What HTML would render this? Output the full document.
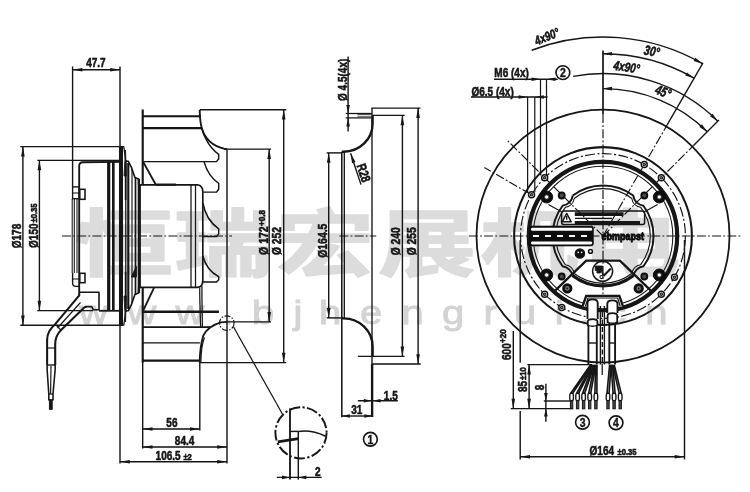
<!DOCTYPE html>
<html><head><meta charset="utf-8"><title>Fan drawing</title>
<style>
html,body{margin:0;padding:0;background:#fff;}
body{width:750px;height:492px;overflow:hidden;}
svg{display:block;font-family:"Liberation Sans",sans-serif;}
</style></head><body>
<svg width="750" height="492" viewBox="0 0 750 492">
<defs><filter id="soft" x="0" y="0" width="750" height="492" filterUnits="userSpaceOnUse"><feGaussianBlur stdDeviation="0.4"/></filter></defs>
<rect x="0" y="0" width="750" height="492" fill="#ffffff"/>
<g filter="url(#soft)">
<text transform="translate(75.0,269.5) scale(1.35,1)" font-family="&quot;Liberation Sans&quot;, &quot;Noto Sans CJK SC&quot;, sans-serif" font-size="72.6" font-weight="bold" text-anchor="start" fill="#dcdcdc" stroke="#dcdcdc" stroke-width="1.5" stroke-linejoin="round">恒</text>
<text transform="translate(174.0,269.5) scale(1.35,1)" font-family="&quot;Liberation Sans&quot;, &quot;Noto Sans CJK SC&quot;, sans-serif" font-size="72.6" font-weight="bold" text-anchor="start" fill="#dcdcdc" stroke="#dcdcdc" stroke-width="1.5" stroke-linejoin="round">瑞</text>
<text transform="translate(276.0,269.5) scale(1.35,1)" font-family="&quot;Liberation Sans&quot;, &quot;Noto Sans CJK SC&quot;, sans-serif" font-size="72.6" font-weight="bold" text-anchor="start" fill="#dcdcdc" stroke="#dcdcdc" stroke-width="1.5" stroke-linejoin="round">宏</text>
<text transform="translate(378.0,269.5) scale(1.35,1)" font-family="&quot;Liberation Sans&quot;, &quot;Noto Sans CJK SC&quot;, sans-serif" font-size="72.6" font-weight="bold" text-anchor="start" fill="#dcdcdc" stroke="#dcdcdc" stroke-width="1.5" stroke-linejoin="round">展</text>
<text transform="translate(480.0,269.5) scale(1.35,1)" font-family="&quot;Liberation Sans&quot;, &quot;Noto Sans CJK SC&quot;, sans-serif" font-size="72.6" font-weight="bold" text-anchor="start" fill="#dcdcdc" stroke="#dcdcdc" stroke-width="1.5" stroke-linejoin="round">机</text>
<text transform="translate(582.0,269.5) scale(1.35,1)" font-family="&quot;Liberation Sans&quot;, &quot;Noto Sans CJK SC&quot;, sans-serif" font-size="72.6" font-weight="bold" text-anchor="start" fill="#dcdcdc" stroke="#dcdcdc" stroke-width="1.5" stroke-linejoin="round">电</text>
<text transform="translate(93.5,323.6) scale(1.2,1)" font-size="33.3" text-anchor="middle" fill="#d3d3d3" stroke="#d3d3d3" stroke-width="0.9">w</text>
<text transform="translate(142,323.6) scale(1.2,1)" font-size="33.3" text-anchor="middle" fill="#d3d3d3" stroke="#d3d3d3" stroke-width="0.9">w</text>
<text transform="translate(190,323.6) scale(1.2,1)" font-size="33.3" text-anchor="middle" fill="#d3d3d3" stroke="#d3d3d3" stroke-width="0.9">w</text>
<text transform="translate(228,323.6) scale(1.2,1)" font-size="33.3" text-anchor="middle" fill="#d3d3d3" stroke="#d3d3d3" stroke-width="0.9">.</text>
<text transform="translate(263,323.6) scale(1.2,1)" font-size="33.3" text-anchor="middle" fill="#d3d3d3" stroke="#d3d3d3" stroke-width="0.9">b</text>
<text transform="translate(298,323.6) scale(1.2,1)" font-size="33.3" text-anchor="middle" fill="#d3d3d3" stroke="#d3d3d3" stroke-width="0.9">j</text>
<text transform="translate(330.2,323.6) scale(1.2,1)" font-size="33.3" text-anchor="middle" fill="#d3d3d3" stroke="#d3d3d3" stroke-width="0.9">h</text>
<text transform="translate(371,323.6) scale(1.2,1)" font-size="33.3" text-anchor="middle" fill="#d3d3d3" stroke="#d3d3d3" stroke-width="0.9">e</text>
<text transform="translate(412.6,323.6) scale(1.2,1)" font-size="33.3" text-anchor="middle" fill="#d3d3d3" stroke="#d3d3d3" stroke-width="0.9">n</text>
<text transform="translate(453,323.6) scale(1.2,1)" font-size="33.3" text-anchor="middle" fill="#d3d3d3" stroke="#d3d3d3" stroke-width="0.9">g</text>
<text transform="translate(490.2,323.6) scale(1.2,1)" font-size="33.3" text-anchor="middle" fill="#d3d3d3" stroke="#d3d3d3" stroke-width="0.9">r</text>
<text transform="translate(525.2,323.6) scale(1.2,1)" font-size="33.3" text-anchor="middle" fill="#d3d3d3" stroke="#d3d3d3" stroke-width="0.9">u</text>
<text transform="translate(559.3,323.6) scale(1.2,1)" font-size="33.3" text-anchor="middle" fill="#d3d3d3" stroke="#d3d3d3" stroke-width="0.9">i</text>
<text transform="translate(585,323.6) scale(1.2,1)" font-size="33.3" text-anchor="middle" fill="#d3d3d3" stroke="#d3d3d3" stroke-width="0.9">.</text>
<text transform="translate(616,323.6) scale(1.2,1)" font-size="33.3" text-anchor="middle" fill="#d3d3d3" stroke="#d3d3d3" stroke-width="0.9">c</text>
<text transform="translate(656.4,323.6) scale(1.2,1)" font-size="33.3" text-anchor="middle" fill="#d3d3d3" stroke="#d3d3d3" stroke-width="0.9">n</text>
<line x1="72.60" y1="66.50" x2="72.60" y2="186.90" stroke="#141414" stroke-width="1.4" stroke-linecap="butt"/>
<line x1="120.00" y1="66.50" x2="120.00" y2="146.60" stroke="#141414" stroke-width="1.4" stroke-linecap="butt"/>
<line x1="72.60" y1="69.70" x2="120.00" y2="69.70" stroke="#141414" stroke-width="1.4" stroke-linecap="butt"/>
<polygon points="72.60,69.70 82.40,67.90 82.40,71.50" fill="#141414"/>
<polygon points="120.00,69.70 110.20,71.50 110.20,67.90" fill="#141414"/>
<text transform="translate(95.90,67.20) rotate(0) scale(0.76,1)" font-size="13.2" font-weight="bold" font-style="normal" text-anchor="middle" fill="#141414" stroke="#141414" stroke-width="0.55">47.7</text>
<line x1="20.30" y1="146.60" x2="122.50" y2="146.60" stroke="#141414" stroke-width="1.4" stroke-linecap="butt"/>
<line x1="20.30" y1="325.20" x2="122.70" y2="325.20" stroke="#141414" stroke-width="1.4" stroke-linecap="butt"/>
<line x1="22.90" y1="146.60" x2="22.90" y2="325.20" stroke="#141414" stroke-width="1.4" stroke-linecap="butt"/>
<polygon points="22.90,146.60 24.70,156.40 21.10,156.40" fill="#141414"/>
<polygon points="22.90,325.20 21.10,315.40 24.70,315.40" fill="#141414"/>
<text transform="translate(21.30,236.00) rotate(-90) scale(0.76,1)" font-size="13.2" font-weight="bold" font-style="normal" text-anchor="middle" fill="#141414" stroke="#141414" stroke-width="0.55">Ø178</text>
<line x1="37.30" y1="160.40" x2="119.50" y2="160.40" stroke="#141414" stroke-width="1.4" stroke-linecap="butt"/>
<line x1="37.30" y1="310.60" x2="93.00" y2="310.60" stroke="#141414" stroke-width="1.4" stroke-linecap="butt"/>
<line x1="39.40" y1="160.50" x2="39.40" y2="310.60" stroke="#141414" stroke-width="1.4" stroke-linecap="butt"/>
<polygon points="39.40,160.50 41.20,170.30 37.60,170.30" fill="#141414"/>
<polygon points="39.40,310.60 37.60,300.80 41.20,300.80" fill="#141414"/>
<text transform="translate(38.00,248.00) rotate(-90) scale(0.76,1)" font-size="13.2" font-weight="bold" font-style="normal" text-anchor="start" fill="#141414" stroke="#141414" stroke-width="0.55">Ø150</text>
<text transform="translate(37.20,222.50) rotate(-90) scale(0.85,1)" font-size="9" font-weight="bold" font-style="normal" text-anchor="start" fill="#141414" stroke="#141414" stroke-width="0.55">±0.35</text>
<line x1="224.00" y1="149.10" x2="271.00" y2="149.10" stroke="#141414" stroke-width="1.4" stroke-linecap="butt"/>
<line x1="227.00" y1="321.90" x2="271.00" y2="321.90" stroke="#141414" stroke-width="1.4" stroke-linecap="butt"/>
<line x1="269.20" y1="149.10" x2="269.20" y2="321.90" stroke="#141414" stroke-width="1.4" stroke-linecap="butt"/>
<polygon points="269.20,149.10 271.00,158.90 267.40,158.90" fill="#141414"/>
<polygon points="269.20,321.90 267.40,312.10 271.00,312.10" fill="#141414"/>
<text transform="translate(267.60,255.00) rotate(-90) scale(0.8,1)" font-size="13.2" font-weight="bold" font-style="normal" text-anchor="start" fill="#141414" stroke="#141414" stroke-width="0.55">Ø 172</text>
<text transform="translate(264.60,226.00) rotate(-90) scale(0.85,1)" font-size="9.5" font-weight="bold" font-style="normal" text-anchor="start" fill="#141414" stroke="#141414" stroke-width="0.55">+0.8</text>
<line x1="200.00" y1="109.70" x2="286.20" y2="109.70" stroke="#141414" stroke-width="1.4" stroke-linecap="butt"/>
<line x1="200.00" y1="362.60" x2="286.20" y2="362.60" stroke="#141414" stroke-width="1.4" stroke-linecap="butt"/>
<line x1="283.70" y1="109.70" x2="283.70" y2="362.60" stroke="#141414" stroke-width="1.4" stroke-linecap="butt"/>
<polygon points="283.70,109.70 285.50,119.50 281.90,119.50" fill="#141414"/>
<polygon points="283.70,362.60 281.90,352.80 285.50,352.80" fill="#141414"/>
<text transform="translate(281.40,255.00) rotate(-90) scale(0.78,1)" font-size="13.2" font-weight="bold" font-style="normal" text-anchor="start" fill="#141414" stroke="#141414" stroke-width="0.55">Ø 252</text>
<line x1="227.00" y1="149.00" x2="227.00" y2="463.50" stroke="#141414" stroke-width="1.4" stroke-linecap="butt"/>
<line x1="142.70" y1="362.00" x2="142.70" y2="448.60" stroke="#141414" stroke-width="1.4" stroke-linecap="butt"/>
<line x1="199.80" y1="362.00" x2="199.80" y2="430.50" stroke="#141414" stroke-width="1.4" stroke-linecap="butt"/>
<line x1="120.00" y1="325.00" x2="120.00" y2="463.50" stroke="#141414" stroke-width="1.4" stroke-linecap="butt"/>
<line x1="142.70" y1="429.00" x2="199.80" y2="429.00" stroke="#141414" stroke-width="1.4" stroke-linecap="butt"/>
<polygon points="142.70,429.00 152.50,427.20 152.50,430.80" fill="#141414"/>
<polygon points="199.80,429.00 190.00,430.80 190.00,427.20" fill="#141414"/>
<text transform="translate(171.90,426.70) rotate(0) scale(0.76,1)" font-size="13.2" font-weight="bold" font-style="normal" text-anchor="middle" fill="#141414" stroke="#141414" stroke-width="0.55">56</text>
<line x1="142.70" y1="447.00" x2="227.00" y2="447.00" stroke="#141414" stroke-width="1.4" stroke-linecap="butt"/>
<polygon points="142.70,447.00 152.50,445.20 152.50,448.80" fill="#141414"/>
<polygon points="227.00,447.00 217.20,448.80 217.20,445.20" fill="#141414"/>
<text transform="translate(184.60,444.50) rotate(0) scale(0.76,1)" font-size="13.2" font-weight="bold" font-style="normal" text-anchor="middle" fill="#141414" stroke="#141414" stroke-width="0.55">84.4</text>
<line x1="120.00" y1="461.70" x2="227.00" y2="461.70" stroke="#141414" stroke-width="1.4" stroke-linecap="butt"/>
<polygon points="120.00,461.70 129.80,459.90 129.80,463.50" fill="#141414"/>
<polygon points="227.00,461.70 217.20,463.50 217.20,459.90" fill="#141414"/>
<text transform="translate(168.10,459.70) rotate(0) scale(0.76,1)" font-size="13.2" font-weight="bold" font-style="normal" text-anchor="middle" fill="#141414" stroke="#141414" stroke-width="0.55">106.5</text>
<text transform="translate(187.60,459.70) rotate(0) scale(0.85,1)" font-size="9" font-weight="bold" font-style="normal" text-anchor="middle" fill="#141414" stroke="#141414" stroke-width="0.55">±2</text>
<line x1="62.00" y1="236.00" x2="232.00" y2="236.00" stroke="#141414" stroke-width="1.15" stroke-linecap="butt" stroke-dasharray="9 2.2 1.8 2.2"/>
<path d="M79.2,292.2 L79.2,166 Q79.2,162.2 82.8,162.2 L119.5,161.8" fill="none" stroke="#141414" stroke-width="1.85" stroke-linejoin="round" />
<line x1="72.20" y1="199.00" x2="72.20" y2="273.00" stroke="#141414" stroke-width="1.05" stroke-linecap="butt"/>
<line x1="74.30" y1="199.00" x2="74.30" y2="273.00" stroke="#141414" stroke-width="1.05" stroke-linecap="butt"/>
<line x1="77.00" y1="199.00" x2="77.00" y2="273.00" stroke="#141414" stroke-width="1.05" stroke-linecap="butt"/>
<rect x="72.60" y="186.90" width="6.60" height="11.80" rx="0" fill="none" stroke="#141414" stroke-width="1.35"/>
<rect x="79.80" y="189.30" width="5.20" height="10.00" rx="0" fill="#fff" stroke="#141414" stroke-width="1.55"/>
<path d="M72.6,273 L72.6,283 Q72.6,286.3 76,286.3 L79.2,286.3" fill="none" stroke="#141414" stroke-width="1.35" stroke-linejoin="round" />
<rect x="79.80" y="273.30" width="5.20" height="9.40" rx="0" fill="#fff" stroke="#141414" stroke-width="1.55"/>
<line x1="72.60" y1="279.00" x2="79.20" y2="279.00" stroke="#141414" stroke-width="1.05" stroke-linecap="butt"/>
<line x1="72.60" y1="193.00" x2="79.20" y2="193.00" stroke="#141414" stroke-width="1.05" stroke-linecap="butt"/>
<line x1="108.70" y1="161.50" x2="108.70" y2="310.80" stroke="#141414" stroke-width="3.15" stroke-linecap="butt"/>
<line x1="113.30" y1="161.30" x2="113.30" y2="310.80" stroke="#141414" stroke-width="2.65" stroke-linecap="butt"/>
<path d="M119.6,146.6 L123.8,146.6 L125.8,162 L125.8,310 L123.8,325.2 L119.6,325.2 Z" fill="none" stroke="#141414" stroke-width="1.25" stroke-linejoin="round" />
<line x1="121.30" y1="146.60" x2="121.30" y2="325.20" stroke="#141414" stroke-width="3.35" stroke-linecap="butt"/>
<line x1="125.60" y1="162.00" x2="125.60" y2="200.00" stroke="#141414" stroke-width="1.65" stroke-linecap="butt"/>
<line x1="125.60" y1="272.00" x2="125.60" y2="310.00" stroke="#141414" stroke-width="1.65" stroke-linecap="butt"/>
<line x1="128.30" y1="163.00" x2="128.30" y2="309.00" stroke="#141414" stroke-width="2.15" stroke-linecap="butt"/>
<line x1="132.00" y1="169.00" x2="132.00" y2="303.00" stroke="#141414" stroke-width="1.15" stroke-linecap="butt"/>
<line x1="135.50" y1="178.00" x2="135.50" y2="294.00" stroke="#141414" stroke-width="1.75" stroke-linecap="butt"/>
<line x1="138.90" y1="179.00" x2="138.90" y2="293.00" stroke="#141414" stroke-width="2.35" stroke-linecap="butt"/>
<path d="M125.8,161 L128.3,161.3 L131.3,167.1 L134.9,177.4 L138.6,178.9 L138.6,184.8" fill="none" stroke="#141414" stroke-width="1.65" stroke-linejoin="round" />
<path d="M125.8,311 L128.3,310.7 L131.3,304.9 L134.9,294.6 L138.6,293.1 L138.6,287.4" fill="none" stroke="#141414" stroke-width="1.65" stroke-linejoin="round" />
<path d="M131.2,277 L136.4,266.5 L136.4,277 Z" fill="#141414" stroke="#141414" stroke-width="0.85" stroke-linejoin="round" />
<path d="M125.5,150 L126.4,176 L124,176 Z" fill="#141414" stroke="#141414" stroke-width="0.85" stroke-linejoin="round" />
<path d="M125.5,322 L126.4,296 L124,296 Z" fill="#141414" stroke="#141414" stroke-width="0.85" stroke-linejoin="round" />
<path d="M79.2,292.2 L99,292.2 L99,309.8 L93.4,309.8 L91.7,306.6 L85.5,306.6" fill="none" stroke="#141414" stroke-width="1.55" stroke-linejoin="round" />
<line x1="99.00" y1="310.80" x2="120.00" y2="310.80" stroke="#141414" stroke-width="1.75" stroke-linecap="butt"/>
<path d="M79.2,292.2 L79.2,295.6 L77.6,297.3 L55.2,324.2 Q47.1,331 47.1,340 L47.1,365" fill="none" stroke="#141414" stroke-width="2.05" stroke-linejoin="round" />
<path d="M86.4,306.8 L84.5,307.3 L61.1,330.1 Q55.2,336 55.2,344 L55.2,365" fill="none" stroke="#141414" stroke-width="2.05" stroke-linejoin="round" />
<line x1="80.50" y1="302.50" x2="57.50" y2="328.00" stroke="#141414" stroke-width="1.15" stroke-linecap="butt"/>
<line x1="54.80" y1="323.80" x2="60.80" y2="330.00" stroke="#141414" stroke-width="1.15" stroke-linecap="butt"/>
<line x1="47.10" y1="348.00" x2="55.20" y2="348.00" stroke="#141414" stroke-width="1.15" stroke-linecap="butt"/>
<line x1="47.10" y1="365.00" x2="55.20" y2="365.00" stroke="#141414" stroke-width="1.35" stroke-linecap="butt"/>
<path d="M47.1,365 L47.1,369 L48.8,394 L48.8,400 L53,400 L53,394 L55.2,369 L55.2,365" fill="none" stroke="#141414" stroke-width="1.55" stroke-linejoin="round" />
<line x1="51.00" y1="366.00" x2="50.60" y2="394.00" stroke="#141414" stroke-width="1.15" stroke-linecap="butt"/>
<line x1="48.80" y1="394.00" x2="53.00" y2="394.00" stroke="#141414" stroke-width="1.15" stroke-linecap="butt"/>
<rect x="49.40" y="400.00" width="2.80" height="9.30" rx="0" fill="#141414" stroke="#141414" stroke-width="0.95"/>
<path d="M139.6,184.8 L197.5,184.8 Q202.8,185.5 202.8,192 L202.8,280.4 Q202.8,286.8 197.5,287.4 L139.6,287.4" fill="none" stroke="#141414" stroke-width="1.65" stroke-linejoin="round" />
<line x1="139.60" y1="184.00" x2="139.60" y2="288.00" stroke="#141414" stroke-width="2.55" stroke-linecap="butt"/>
<line x1="191.00" y1="184.80" x2="191.00" y2="287.40" stroke="#141414" stroke-width="1.25" stroke-linecap="butt"/>
<line x1="195.50" y1="184.80" x2="195.50" y2="287.40" stroke="#141414" stroke-width="1.25" stroke-linecap="butt"/>
<line x1="142.70" y1="109.50" x2="142.70" y2="184.80" stroke="#141414" stroke-width="2.15" stroke-linecap="butt"/>
<line x1="142.70" y1="287.40" x2="142.70" y2="362.60" stroke="#141414" stroke-width="2.15" stroke-linecap="butt"/>
<line x1="142.70" y1="116.20" x2="200.60" y2="116.20" stroke="#141414" stroke-width="2.15" stroke-linecap="butt"/>
<line x1="142.70" y1="128.20" x2="201.50" y2="128.20" stroke="#141414" stroke-width="2.25" stroke-linecap="butt"/>
<path d="M199.7,109.7 C199.9,120 200.8,125 201.9,128.5 C204.5,137 211,145.5 223.9,148.7 L227,149" fill="none" stroke="#141414" stroke-width="1.85" stroke-linejoin="round" />
<path d="M201.9,128.5 C203,133 204.8,137 206.3,139.6 C209,145 214,151 218.7,154.3 L218.7,158.7 L216.5,161.6 L142.7,161.6" fill="none" stroke="#141414" stroke-width="1.45" stroke-linejoin="round" />
<path d="M204,161.6 C206.5,170.5 211.5,178.5 218.7,183.3 L218.7,189.2 L216.5,192.1 L202.8,192.1" fill="none" stroke="#141414" stroke-width="1.45" stroke-linejoin="round" />
<line x1="143.20" y1="162.00" x2="155.70" y2="184.50" stroke="#141414" stroke-width="1.75" stroke-linecap="butt"/>
<line x1="155.70" y1="184.60" x2="176.00" y2="184.60" stroke="#141414" stroke-width="2.15" stroke-linecap="butt"/>
<path d="M202.9,203 C205,214.5 211,223.5 218.7,228.8 L218.7,233.9 L216.5,236.5 L202.9,236.5" fill="none" stroke="#141414" stroke-width="1.45" stroke-linejoin="round" />
<path d="M202.9,256 C205,264.5 211,272.5 218.7,276.7 L218.7,279.7 L216.5,281.9 L203,281.9" fill="none" stroke="#141414" stroke-width="1.45" stroke-linejoin="round" />
<path d="M199.7,287.4 C199.7,300 200.2,312 200.6,327" fill="none" stroke="#141414" stroke-width="1.25" stroke-linejoin="round" />
<path d="M201.9,286 C201.9,300 202.2,312 202.4,327" fill="none" stroke="#141414" stroke-width="1.25" stroke-linejoin="round" />
<line x1="154.20" y1="287.40" x2="143.20" y2="310.50" stroke="#141414" stroke-width="1.75" stroke-linecap="butt"/>
<line x1="142.70" y1="311.80" x2="218.90" y2="311.80" stroke="#141414" stroke-width="2.55" stroke-linecap="butt"/>
<line x1="142.70" y1="327.10" x2="210.70" y2="327.10" stroke="#141414" stroke-width="1.95" stroke-linecap="butt"/>
<line x1="142.70" y1="342.90" x2="199.90" y2="342.90" stroke="#141414" stroke-width="1.35" stroke-linecap="butt"/>
<line x1="142.70" y1="360.60" x2="199.80" y2="360.60" stroke="#141414" stroke-width="2.05" stroke-linecap="butt"/>
<path d="M199.7,362.6 C199.8,352 200.6,345 203.3,335.6 C206,330 212,325 220.9,322.4 L227,321.9" fill="none" stroke="#141414" stroke-width="1.85" stroke-linejoin="round" />
<path d="M200.9,362 C201,352 202,344 204.5,337.5" fill="none" stroke="#141414" stroke-width="1.15" stroke-linejoin="round" />
<circle cx="226.80" cy="323.10" r="7.30" fill="none" stroke="#141414" stroke-width="1.15" stroke-dasharray="6 1.6 1.4 1.6"/>
<line x1="233.40" y1="326.80" x2="282.40" y2="414.00" stroke="#141414" stroke-width="1.25" stroke-linecap="butt"/>
<circle cx="301.00" cy="432.80" r="25.60" fill="none" stroke="#141414" stroke-width="1.95" stroke-dasharray="11 2.4 2.2 2.4"/>
<line x1="290.00" y1="408.50" x2="290.00" y2="479.60" stroke="#141414" stroke-width="1.85" stroke-linecap="butt"/>
<line x1="298.30" y1="431.40" x2="298.30" y2="479.60" stroke="#141414" stroke-width="1.45" stroke-linecap="butt"/>
<path d="M290,431.4 L298.3,431.4" fill="none" stroke="#141414" stroke-width="1.45" stroke-linejoin="round" />
<path d="M298.3,431.4 C306,430.4 316,431.6 325.6,436.2" fill="none" stroke="#141414" stroke-width="1.55" stroke-linejoin="round" />
<path d="M277.8,441.8 L298.3,438.6" fill="none" stroke="#141414" stroke-width="2.75" stroke-linejoin="round" />
<line x1="276.80" y1="477.40" x2="321.70" y2="477.40" stroke="#141414" stroke-width="1.4" stroke-linecap="butt"/>
<polygon points="290.00,477.40 282.00,479.20 282.00,475.60" fill="#141414"/>
<polygon points="298.30,477.40 306.30,475.60 306.30,479.20" fill="#141414"/>
<text transform="translate(317.80,476.20) rotate(0) scale(0.76,1)" font-size="13.2" font-weight="bold" font-style="normal" text-anchor="middle" fill="#141414" stroke="#141414" stroke-width="0.55">2</text>
<line x1="348.10" y1="56.50" x2="348.10" y2="131.50" stroke="#141414" stroke-width="1.4" stroke-linecap="butt"/>
<polygon points="348.10,113.50 346.30,105.00 349.90,105.00" fill="#141414"/>
<polygon points="348.10,117.90 349.90,126.40 346.30,126.40" fill="#141414"/>
<text transform="translate(347.00,101.00) rotate(-90) scale(0.76,1)" font-size="13.2" font-weight="bold" font-style="normal" text-anchor="start" fill="#141414" stroke="#141414" stroke-width="0.55">Ø 4.5(4x)</text>
<line x1="345.70" y1="113.50" x2="371.50" y2="113.50" stroke="#141414" stroke-width="1.25" stroke-linecap="butt"/>
<line x1="345.70" y1="117.90" x2="371.50" y2="117.90" stroke="#141414" stroke-width="1.25" stroke-linecap="butt"/>
<line x1="357.40" y1="114.60" x2="371.50" y2="114.60" stroke="#555" stroke-width="1.15" stroke-linecap="butt"/>
<line x1="357.40" y1="116.80" x2="371.50" y2="116.80" stroke="#555" stroke-width="1.15" stroke-linecap="butt"/>
<line x1="371.50" y1="108.10" x2="420.50" y2="108.10" stroke="#141414" stroke-width="1.4" stroke-linecap="butt"/>
<line x1="372.00" y1="115.40" x2="404.60" y2="115.40" stroke="#141414" stroke-width="1.4" stroke-linecap="butt"/>
<line x1="402.40" y1="115.40" x2="402.40" y2="356.40" stroke="#141414" stroke-width="1.4" stroke-linecap="butt"/>
<polygon points="402.40,115.40 404.20,125.20 400.60,125.20" fill="#141414"/>
<polygon points="402.40,356.40 400.60,346.60 404.20,346.60" fill="#141414"/>
<line x1="418.10" y1="108.10" x2="418.10" y2="364.00" stroke="#141414" stroke-width="1.4" stroke-linecap="butt"/>
<polygon points="418.10,108.10 419.90,117.90 416.30,117.90" fill="#141414"/>
<polygon points="418.10,364.00 416.30,354.20 419.90,354.20" fill="#141414"/>
<text transform="translate(399.80,255.30) rotate(-90) scale(0.78,1)" font-size="13.2" font-weight="bold" font-style="normal" text-anchor="start" fill="#141414" stroke="#141414" stroke-width="0.55">Ø 240</text>
<text transform="translate(415.90,255.30) rotate(-90) scale(0.78,1)" font-size="13.2" font-weight="bold" font-style="normal" text-anchor="start" fill="#141414" stroke="#141414" stroke-width="0.55">Ø 255</text>
<line x1="372.00" y1="108.10" x2="372.00" y2="364.00" stroke="#141414" stroke-width="1.35" stroke-linecap="butt"/>
<path d="M372.6,116 L372.6,123.5 A29,28 0 0 1 343.6,151.7 L341.8,151.7" fill="none" stroke="#141414" stroke-width="2.35" stroke-linejoin="round" />
<path d="M372.6,356 L372.6,346.4 A29,28 0 0 0 343.6,318.4 L341.8,318.4" fill="none" stroke="#141414" stroke-width="2.35" stroke-linejoin="round" />
<line x1="341.80" y1="151.80" x2="341.80" y2="417.20" stroke="#141414" stroke-width="1.55" stroke-linecap="butt"/>
<line x1="344.30" y1="151.80" x2="344.30" y2="318.30" stroke="#141414" stroke-width="1.35" stroke-linecap="butt"/>
<line x1="372.10" y1="364.00" x2="372.10" y2="417.00" stroke="#141414" stroke-width="2.35" stroke-linecap="butt"/>
<line x1="326.70" y1="152.90" x2="341.90" y2="152.90" stroke="#141414" stroke-width="1.4" stroke-linecap="butt"/>
<line x1="326.70" y1="317.90" x2="341.90" y2="317.90" stroke="#141414" stroke-width="1.4" stroke-linecap="butt"/>
<line x1="328.70" y1="152.90" x2="328.70" y2="317.90" stroke="#141414" stroke-width="1.4" stroke-linecap="butt"/>
<polygon points="328.70,152.90 330.50,162.70 326.90,162.70" fill="#141414"/>
<polygon points="328.70,317.90 326.90,308.10 330.50,308.10" fill="#141414"/>
<text transform="translate(326.90,257.80) rotate(-90) scale(0.79,1)" font-size="13.2" font-weight="bold" font-style="normal" text-anchor="start" fill="#141414" stroke="#141414" stroke-width="0.55">Ø164.5</text>
<line x1="350.60" y1="153.20" x2="361.00" y2="184.60" stroke="#141414" stroke-width="1.4" stroke-linecap="butt"/>
<polygon points="350.60,153.20 355.48,162.11 352.07,163.25" fill="#141414"/>
<text transform="translate(359.40,174.30) rotate(71.5) scale(0.76,1)" font-size="13.2" font-weight="bold" font-style="normal" text-anchor="middle" fill="#141414" stroke="#141414" stroke-width="0.55">R28</text>
<line x1="357.90" y1="356.40" x2="404.60" y2="356.40" stroke="#141414" stroke-width="1.4" stroke-linecap="butt"/>
<line x1="371.90" y1="364.00" x2="420.70" y2="364.00" stroke="#141414" stroke-width="1.4" stroke-linecap="butt"/>
<line x1="357.90" y1="400.80" x2="397.80" y2="400.80" stroke="#141414" stroke-width="1.4" stroke-linecap="butt"/>
<polygon points="371.30,400.80 363.80,402.60 363.80,399.00" fill="#141414"/>
<polygon points="373.00,400.80 380.50,399.00 380.50,402.60" fill="#141414"/>
<text transform="translate(390.80,399.50) rotate(0) scale(0.76,1)" font-size="13.2" font-weight="bold" font-style="normal" text-anchor="middle" fill="#141414" stroke="#141414" stroke-width="0.55">1.5</text>
<line x1="341.80" y1="416.00" x2="372.40" y2="416.00" stroke="#141414" stroke-width="1.4" stroke-linecap="butt"/>
<polygon points="341.80,416.00 349.80,414.20 349.80,417.80" fill="#141414"/>
<polygon points="372.40,416.00 364.40,417.80 364.40,414.20" fill="#141414"/>
<text transform="translate(356.80,414.00) rotate(0) scale(0.76,1)" font-size="13.2" font-weight="bold" font-style="normal" text-anchor="middle" fill="#141414" stroke="#141414" stroke-width="0.55">31</text>
<circle cx="370.40" cy="439.20" r="6.90" fill="none" stroke="#141414" stroke-width="1.65"/>
<text transform="translate(370.50,443.60) rotate(0) scale(0.85,1)" font-size="12.3" font-weight="bold" font-style="normal" text-anchor="middle" fill="#141414" stroke="#141414" stroke-width="0.4">1</text>
<line x1="339.40" y1="236.00" x2="376.20" y2="236.00" stroke="#141414" stroke-width="1.15" stroke-linecap="butt" stroke-dasharray="9 2.2 1.8 2.2"/>
<circle cx="603.00" cy="236.00" r="126.50" fill="none" stroke="#141414" stroke-width="1.75"/>
<circle cx="603.00" cy="236.00" r="88.90" fill="none" stroke="#141414" stroke-width="2.05"/>
<circle cx="603.00" cy="236.00" r="82.40" fill="none" stroke="#141414" stroke-width="1.15" stroke-dasharray="10 2.4 2 2.4"/>
<circle cx="603.00" cy="236.00" r="74.20" fill="none" stroke="#141414" stroke-width="4.15"/>
<circle cx="603.00" cy="236.00" r="69.80" fill="none" stroke="#141414" stroke-width="1.05"/>
<line x1="468.90" y1="236.00" x2="740.30" y2="236.00" stroke="#141414" stroke-width="1.15" stroke-linecap="butt" stroke-dasharray="9 2.2 1.8 2.2"/>
<line x1="603.00" y1="50.50" x2="603.00" y2="114.00" stroke="#141414" stroke-width="1.65" stroke-linecap="butt"/>
<line x1="603.00" y1="114.00" x2="603.00" y2="300.00" stroke="#141414" stroke-width="1.15" stroke-linecap="butt" stroke-dasharray="9 2.2 1.8 2.2"/>
<line x1="602.40" y1="312.00" x2="602.40" y2="364.00" stroke="#141414" stroke-width="1.35" stroke-linecap="butt" stroke-dasharray="5 2.5"/>
<line x1="603.00" y1="236.00" x2="667.00" y2="125.15" stroke="#141414" stroke-width="1.1" stroke-linecap="butt" stroke-dasharray="9 2.2 1.8 2.2"/>
<line x1="667.00" y1="125.15" x2="703.00" y2="62.79" stroke="#141414" stroke-width="1.35" stroke-linecap="butt"/>
<line x1="603.00" y1="236.00" x2="693.51" y2="145.49" stroke="#141414" stroke-width="1.1" stroke-linecap="butt" stroke-dasharray="9 2.2 1.8 2.2"/>
<line x1="693.51" y1="145.49" x2="718.97" y2="120.03" stroke="#141414" stroke-width="1.35" stroke-linecap="butt"/>
<line x1="603.00" y1="236.00" x2="506.13" y2="139.13" stroke="#141414" stroke-width="1.1" stroke-linecap="butt" stroke-dasharray="9 2.2 1.8 2.2"/>
<line x1="530.25" y1="194.00" x2="484.35" y2="167.50" stroke="#141414" stroke-width="1.1" stroke-linecap="butt" stroke-dasharray="9 2.2 1.8 2.2"/>
<path d="M531.68,50.22 A199.00,199.00 0 0 1 702.50,63.66" fill="none" stroke="#141414" stroke-width="1.45" stroke-linejoin="round" />
<polygon points="702.50,63.66 693.71,61.03 695.40,57.85" fill="#141414"/>
<path d="M603.00,53.80 A182.20,182.20 0 0 1 694.10,78.21" fill="none" stroke="#141414" stroke-width="1.45" stroke-linejoin="round" />
<polygon points="603.00,53.80 612.00,52.00 612.00,55.60" fill="#141414"/>
<polygon points="694.10,78.21 685.31,75.57 687.00,72.40" fill="#141414"/>
<path d="M573.13,76.37 A162.40,162.40 0 0 1 717.83,121.17" fill="none" stroke="#141414" stroke-width="1.45" stroke-linejoin="round" />
<polygon points="717.83,121.17 710.02,116.34 712.48,113.71" fill="#141414"/>
<path d="M603.00,88.60 A147.40,147.40 0 0 1 707.23,131.77" fill="none" stroke="#141414" stroke-width="1.45" stroke-linejoin="round" />
<polygon points="603.00,88.60 612.00,86.80 612.00,90.40" fill="#141414"/>
<polygon points="707.23,131.77 699.42,126.95 701.87,124.32" fill="#141414"/>
<text transform="translate(548.60,40.60) rotate(-22) scale(0.76,1)" font-size="12.8" font-weight="bold" font-style="italic" text-anchor="middle" fill="#141414" stroke="#141414" stroke-width="0.55">4x90°</text>
<text transform="translate(651.00,55.80) rotate(12) scale(0.76,1)" font-size="13.6" font-weight="bold" font-style="italic" text-anchor="middle" fill="#141414" stroke="#141414" stroke-width="0.55">30°</text>
<text transform="translate(626.00,71.50) rotate(9) scale(0.76,1)" font-size="13.2" font-weight="bold" font-style="italic" text-anchor="middle" fill="#141414" stroke="#141414" stroke-width="0.55">4x90°</text>
<text transform="translate(661.50,96.00) rotate(21) scale(0.76,1)" font-size="13.6" font-weight="bold" font-style="italic" text-anchor="middle" fill="#141414" stroke="#141414" stroke-width="0.55">45°</text>
<text transform="translate(494.30,77.20) rotate(0) scale(0.76,1)" font-size="13.2" font-weight="bold" font-style="normal" text-anchor="start" fill="#141414" stroke="#141414" stroke-width="0.55">M6 (4x)</text>
<line x1="494.00" y1="79.20" x2="557.80" y2="79.20" stroke="#141414" stroke-width="1.4" stroke-linecap="butt"/>
<polygon points="540.50,79.20 531.50,81.00 531.50,77.40" fill="#141414"/>
<polygon points="546.50,79.20 555.50,77.40 555.50,81.00" fill="#141414"/>
<line x1="540.50" y1="79.20" x2="540.50" y2="175.40" stroke="#141414" stroke-width="1.2" stroke-linecap="butt"/>
<line x1="546.50" y1="79.20" x2="546.50" y2="175.40" stroke="#141414" stroke-width="1.2" stroke-linecap="butt"/>
<text transform="translate(471.40,95.70) rotate(0) scale(0.76,1)" font-size="13.2" font-weight="bold" font-style="normal" text-anchor="start" fill="#141414" stroke="#141414" stroke-width="0.55">Ø6.5 (4x)</text>
<line x1="471.00" y1="97.00" x2="547.60" y2="97.00" stroke="#141414" stroke-width="1.4" stroke-linecap="butt"/>
<polygon points="527.60,97.00 518.60,98.80 518.60,95.20" fill="#141414"/>
<polygon points="534.80,97.00 543.80,95.20 543.80,98.80" fill="#141414"/>
<line x1="527.60" y1="97.00" x2="527.60" y2="192.20" stroke="#141414" stroke-width="1.2" stroke-linecap="butt"/>
<line x1="534.80" y1="97.00" x2="534.80" y2="192.20" stroke="#141414" stroke-width="1.2" stroke-linecap="butt"/>
<circle cx="562.90" cy="72.60" r="6.90" fill="none" stroke="#141414" stroke-width="1.65"/>
<text transform="translate(563.00,77.00) rotate(0) scale(0.85,1)" font-size="12.3" font-weight="bold" font-style="normal" text-anchor="middle" fill="#141414" stroke="#141414" stroke-width="0.4">2</text>
<circle cx="661.34" cy="177.66" r="3.00" fill="#fff" stroke="#141414" stroke-width="1.45"/>
<circle cx="661.34" cy="177.66" r="1.25" fill="#777" stroke="#222" stroke-width="1.05"/>
<circle cx="661.34" cy="294.34" r="3.00" fill="#fff" stroke="#141414" stroke-width="1.45"/>
<circle cx="661.34" cy="294.34" r="1.25" fill="#777" stroke="#222" stroke-width="1.05"/>
<circle cx="544.66" cy="294.34" r="3.00" fill="#fff" stroke="#141414" stroke-width="1.45"/>
<circle cx="544.66" cy="294.34" r="1.25" fill="#777" stroke="#222" stroke-width="1.05"/>
<circle cx="544.66" cy="177.66" r="3.00" fill="#fff" stroke="#141414" stroke-width="1.45"/>
<circle cx="544.66" cy="177.66" r="1.25" fill="#777" stroke="#222" stroke-width="1.05"/>
<circle cx="644.25" cy="164.55" r="3.00" fill="#fff" stroke="#141414" stroke-width="1.45"/>
<circle cx="644.25" cy="164.55" r="1.25" fill="#777" stroke="#222" stroke-width="1.05"/>
<circle cx="674.45" cy="277.25" r="3.00" fill="#fff" stroke="#141414" stroke-width="1.45"/>
<circle cx="674.45" cy="277.25" r="1.25" fill="#777" stroke="#222" stroke-width="1.05"/>
<circle cx="561.75" cy="307.45" r="3.00" fill="#fff" stroke="#141414" stroke-width="1.45"/>
<circle cx="561.75" cy="307.45" r="1.25" fill="#777" stroke="#222" stroke-width="1.05"/>
<circle cx="531.55" cy="194.75" r="3.00" fill="#fff" stroke="#141414" stroke-width="1.45"/>
<circle cx="531.55" cy="194.75" r="1.25" fill="#777" stroke="#222" stroke-width="1.05"/>
<circle cx="546.70" cy="197.00" r="6.00" fill="#0c0c0c" stroke="#0c0c0c" stroke-width="0.95"/>
<line x1="546.70" y1="197.00" x2="544.60" y2="195.50" stroke="#0c0c0c" stroke-width="8.95" stroke-linecap="round"/>
<circle cx="546.70" cy="197.00" r="2.10" fill="#fff" stroke="#444" stroke-width="0.85"/>
<circle cx="561.70" cy="195.50" r="3.00" fill="#4a4a4a" stroke="#0c0c0c" stroke-width="1.85"/>
<circle cx="659.30" cy="197.00" r="6.00" fill="#0c0c0c" stroke="#0c0c0c" stroke-width="0.95"/>
<line x1="659.30" y1="197.00" x2="661.40" y2="195.50" stroke="#0c0c0c" stroke-width="8.95" stroke-linecap="round"/>
<circle cx="659.30" cy="197.00" r="2.10" fill="#fff" stroke="#444" stroke-width="0.85"/>
<circle cx="644.30" cy="195.50" r="3.00" fill="#4a4a4a" stroke="#0c0c0c" stroke-width="1.85"/>
<circle cx="546.70" cy="275.00" r="6.00" fill="#0c0c0c" stroke="#0c0c0c" stroke-width="0.95"/>
<line x1="546.70" y1="275.00" x2="544.60" y2="276.50" stroke="#0c0c0c" stroke-width="8.95" stroke-linecap="round"/>
<circle cx="546.70" cy="275.00" r="2.10" fill="#fff" stroke="#444" stroke-width="0.85"/>
<circle cx="561.70" cy="276.50" r="3.00" fill="#4a4a4a" stroke="#0c0c0c" stroke-width="1.85"/>
<circle cx="659.30" cy="275.00" r="6.00" fill="#0c0c0c" stroke="#0c0c0c" stroke-width="0.95"/>
<line x1="659.30" y1="275.00" x2="661.40" y2="276.50" stroke="#0c0c0c" stroke-width="8.95" stroke-linecap="round"/>
<circle cx="659.30" cy="275.00" r="2.10" fill="#fff" stroke="#444" stroke-width="0.85"/>
<circle cx="644.30" cy="276.50" r="3.00" fill="#4a4a4a" stroke="#0c0c0c" stroke-width="1.85"/>
<path d="M572.75,195.56 A50.5,50.5 0 0 1 633.25,195.56 A12.0,12.0 0 0 0 643.44,205.75 A50.5,50.5 0 0 1 643.44,266.25 A12.0,12.0 0 0 0 633.25,276.44 A50.5,50.5 0 0 1 572.75,276.44 A12.0,12.0 0 0 0 562.56,266.25 A50.5,50.5 0 0 1 562.56,205.75 A12.0,12.0 0 0 0 572.75,195.56" fill="none" stroke="#141414" stroke-width="1.95" stroke-linejoin="round" />
<path d="M574.21,198.47 A47.3,47.3 0 0 1 631.79,198.47 A10.5,10.5 0 0 0 640.53,207.21 A47.3,47.3 0 0 1 640.53,264.79 A10.5,10.5 0 0 0 631.79,273.53 A47.3,47.3 0 0 1 574.21,273.53 A10.5,10.5 0 0 0 565.47,264.79 A47.3,47.3 0 0 1 565.47,207.21 A10.5,10.5 0 0 0 574.21,198.47" fill="none" stroke="#141414" stroke-width="1.15" stroke-linejoin="round" />
<rect x="561.60" y="211.00" width="83.00" height="13.40" rx="2" fill="none" stroke="#141414" stroke-width="1.45"/>
<path d="M566.7,213.4 L571.2,221.8 L562.2,221.8 Z" fill="none" stroke="#141414" stroke-width="1.45" stroke-linejoin="round" />
<line x1="566.70" y1="216.00" x2="566.70" y2="219.80" stroke="#141414" stroke-width="1.35" stroke-linecap="butt"/>
<line x1="574.80" y1="214.20" x2="623.50" y2="214.20" stroke="#141414" stroke-width="3.75" stroke-linecap="butt"/>
<line x1="574.80" y1="222.60" x2="640.00" y2="222.60" stroke="#141414" stroke-width="3.35" stroke-linecap="butt"/>
<line x1="575.00" y1="218.40" x2="612.00" y2="218.40" stroke="#141414" stroke-width="1.15" stroke-linecap="butt"/>
<text transform="translate(601.60,239.50) rotate(0) scale(0.83,1)" font-size="10.8" font-weight="bold" font-style="normal" text-anchor="start" fill="#0a0a0a" stroke="#0a0a0a" stroke-width="0.9">ebmpapst</text>
<line x1="548.40" y1="204.40" x2="561.00" y2="211.50" stroke="#141414" stroke-width="1.15" stroke-linecap="butt"/>
<line x1="657.60" y1="204.40" x2="645.00" y2="211.50" stroke="#141414" stroke-width="1.15" stroke-linecap="butt"/>
<path d="M529.3,226.0 L591,226.0 Q593.4,226.0 593.4,228.2 L593.4,243.8 Q593.4,246.0 591,246.0 L529.3,246.0" fill="#0c0c0c" stroke="#141414" stroke-width="0.65" stroke-linejoin="round" />
<rect x="531.00" y="227.80" width="61.20" height="3.00" rx="1.4" fill="#fff" stroke="none" stroke-width="0"/>
<rect x="531.00" y="241.50" width="61.20" height="3.00" rx="1.4" fill="#fff" stroke="none" stroke-width="0"/>
<line x1="533.00" y1="236.00" x2="591.00" y2="236.00" stroke="#f4f4f4" stroke-width="1.85" stroke-linecap="butt" stroke-dasharray="6 6"/>
<circle cx="579.90" cy="253.50" r="4.60" fill="#111" stroke="#141414" stroke-width="1.35"/>
<circle cx="578.20" cy="252.40" r="0.80" fill="#fff" stroke="none" stroke-width="0"/>
<circle cx="581.60" cy="252.40" r="0.80" fill="#fff" stroke="none" stroke-width="0"/>
<circle cx="590.50" cy="251.40" r="1.90" fill="none" stroke="#141414" stroke-width="1.55"/>
<path d="M555.4,290.3 L586.2,260.6 L619.9,260.6 L650.6,290.3" fill="none" stroke="#141414" stroke-width="2.35" stroke-linejoin="miter" />
<path d="M634.21,274.55 A49.60,49.60 0 0 1 571.79,274.55" fill="none" stroke="#141414" stroke-width="2.55" stroke-linejoin="round" />
<circle cx="602.60" cy="271.30" r="10.00" fill="none" stroke="#141414" stroke-width="1.45"/>
<path d="M595.3,266 L602.5,266 L602.5,270.5 L600.5,270.5 L600.5,273 L597,273 L597,270.5 L595.3,270.5 Z" fill="#141414" stroke="#141414" stroke-width="0.85" stroke-linejoin="round" />
<path d="M603.5,276 L610.8,268.5" fill="none" stroke="#141414" stroke-width="1.95" stroke-linejoin="round" />
<path d="M603.5,276 L601.5,270.5" fill="none" stroke="#141414" stroke-width="1.55" stroke-linejoin="round" />
<circle cx="601.50" cy="277.00" r="1.60" fill="none" stroke="#141414" stroke-width="1.05"/>
<circle cx="567.30" cy="288.40" r="3.70" fill="#777" stroke="#0c0c0c" stroke-width="2.85"/>
<circle cx="567.30" cy="288.40" r="0.90" fill="#111" stroke="none" stroke-width="0"/>
<circle cx="638.70" cy="288.40" r="3.70" fill="#777" stroke="#0c0c0c" stroke-width="2.85"/>
<circle cx="638.70" cy="288.40" r="0.90" fill="#111" stroke="none" stroke-width="0"/>
<path d="M582.5,306.5 L586.2,295.8 L619.4,295.8 L623,306.5" fill="#fff" stroke="#141414" stroke-width="2.35" stroke-linejoin="miter" />
<path d="M585.5,306 L588,298 L617.6,298 L620.2,306" fill="none" stroke="#141414" stroke-width="1.15" stroke-linejoin="round" />
<path d="M587.5,319 L587.5,302.8 Q587.5,299.3 592.6,299.3 Q597.7,299.3 597.7,302.8 L597.7,319" fill="#fff" stroke="#141414" stroke-width="1.85" stroke-linejoin="round" />
<path d="M587.8,326 L587.8,321.5 Q587.8,319 592.6,319 Q597.4000000000001,319 597.4000000000001,321.5 L597.4000000000001,326" fill="#fff" stroke="#141414" stroke-width="1.75" stroke-linejoin="round" />
<path d="M587.8,325 Q592.6,327.5 597.4000000000001,325" fill="none" stroke="#141414" stroke-width="1.35" stroke-linejoin="round" />
<path d="M588.4,326 L588.4,364.6 M596.8,326 L596.8,364.6" fill="none" stroke="#141414" stroke-width="1.85" stroke-linejoin="round" />
<line x1="588.40" y1="343.00" x2="596.80" y2="343.00" stroke="#141414" stroke-width="1.35" stroke-linecap="butt"/>
<path d="M607.3,313 L607.3,303.8 Q607.3,300.3 612.4,300.3 Q617.5,300.3 617.5,303.8 L617.5,313" fill="#fff" stroke="#141414" stroke-width="1.85" stroke-linejoin="round" />
<path d="M607.5999999999999,323 L607.5999999999999,315.5 Q607.5999999999999,313 612.4,313 Q617.2,313 617.2,315.5 L617.2,323" fill="#fff" stroke="#141414" stroke-width="1.75" stroke-linejoin="round" />
<path d="M607.5999999999999,322 Q612.4,324.5 617.2,322" fill="none" stroke="#141414" stroke-width="1.35" stroke-linejoin="round" />
<path d="M609.3,323 L609.3,364.6 M615.1,323 L615.1,364.6" fill="none" stroke="#141414" stroke-width="1.85" stroke-linejoin="round" />
<line x1="609.30" y1="343.00" x2="615.10" y2="343.00" stroke="#141414" stroke-width="1.35" stroke-linecap="butt"/>
<line x1="599.00" y1="310.60" x2="606.00" y2="310.60" stroke="#141414" stroke-width="2.55" stroke-linecap="butt"/>
<line x1="600.40" y1="306.00" x2="600.40" y2="364.60" stroke="#141414" stroke-width="1.35" stroke-linecap="butt"/>
<line x1="604.40" y1="306.00" x2="604.40" y2="364.60" stroke="#141414" stroke-width="1.35" stroke-linecap="butt"/>
<path d="M590.6,364.8 L570.6,393.4 M592.0,364.8 L572.6,393.4" fill="none" stroke="#141414" stroke-width="1.6" stroke-linejoin="round" />
<rect x="570.40" y="400.50" width="2.40" height="8.30" rx="0" fill="#4a4a4a" stroke="#141414" stroke-width="0.95"/>
<rect x="569.80" y="393.20" width="3.60" height="7.40" rx="1.7" fill="#fff" stroke="#141414" stroke-width="1.35"/>
<path d="M591.9,364.8 L576.6,393.4 M593.2,364.8 L578.6,393.4" fill="none" stroke="#141414" stroke-width="1.6" stroke-linejoin="round" />
<rect x="576.40" y="400.50" width="2.40" height="8.30" rx="0" fill="#4a4a4a" stroke="#141414" stroke-width="0.95"/>
<rect x="575.80" y="393.20" width="3.60" height="7.40" rx="1.7" fill="#fff" stroke="#141414" stroke-width="1.35"/>
<path d="M593.1,364.8 L582.6,393.4 M594.5,364.8 L584.6,393.4" fill="none" stroke="#141414" stroke-width="1.6" stroke-linejoin="round" />
<rect x="582.40" y="400.50" width="2.40" height="8.30" rx="0" fill="#4a4a4a" stroke="#141414" stroke-width="0.95"/>
<rect x="581.80" y="393.20" width="3.60" height="7.40" rx="1.7" fill="#fff" stroke="#141414" stroke-width="1.35"/>
<path d="M594.4,364.8 L588.7,393.4 M595.8,364.8 L590.7,393.4" fill="none" stroke="#141414" stroke-width="1.6" stroke-linejoin="round" />
<rect x="588.50" y="400.50" width="2.40" height="8.30" rx="0" fill="#4a4a4a" stroke="#141414" stroke-width="0.95"/>
<rect x="587.90" y="393.20" width="3.60" height="7.40" rx="1.7" fill="#fff" stroke="#141414" stroke-width="1.35"/>
<path d="M595.6,364.8 L594.9,393.4 M597.0,364.8 L596.9,393.4" fill="none" stroke="#141414" stroke-width="1.6" stroke-linejoin="round" />
<rect x="594.70" y="400.50" width="2.40" height="8.30" rx="0" fill="#4a4a4a" stroke="#141414" stroke-width="0.95"/>
<rect x="594.10" y="393.20" width="3.60" height="7.40" rx="1.7" fill="#fff" stroke="#141414" stroke-width="1.35"/>
<path d="M609.6,364.8 L607.0,393.4 M611.2,364.8 L609.0,393.4" fill="none" stroke="#141414" stroke-width="1.6" stroke-linejoin="round" />
<rect x="606.80" y="400.50" width="2.40" height="8.30" rx="0" fill="#4a4a4a" stroke="#141414" stroke-width="0.95"/>
<rect x="606.20" y="393.20" width="3.60" height="7.40" rx="1.7" fill="#fff" stroke="#141414" stroke-width="1.35"/>
<path d="M611.1,364.8 L613.1,393.4 M612.7,364.8 L615.1,393.4" fill="none" stroke="#141414" stroke-width="1.6" stroke-linejoin="round" />
<rect x="612.90" y="400.50" width="2.40" height="8.30" rx="0" fill="#4a4a4a" stroke="#141414" stroke-width="0.95"/>
<rect x="612.30" y="393.20" width="3.60" height="7.40" rx="1.7" fill="#fff" stroke="#141414" stroke-width="1.35"/>
<path d="M612.6,364.8 L619.2,393.4 M614.2,364.8 L621.2,393.4" fill="none" stroke="#141414" stroke-width="1.6" stroke-linejoin="round" />
<rect x="619.00" y="400.50" width="2.40" height="8.30" rx="0" fill="#4a4a4a" stroke="#141414" stroke-width="0.95"/>
<rect x="618.40" y="393.20" width="3.60" height="7.40" rx="1.7" fill="#fff" stroke="#141414" stroke-width="1.35"/>
<line x1="602.20" y1="364.00" x2="602.20" y2="375.00" stroke="#141414" stroke-width="1.25" stroke-linecap="butt"/>
<line x1="513.30" y1="331.00" x2="513.30" y2="408.60" stroke="#141414" stroke-width="1.4" stroke-linecap="butt"/>
<polygon points="513.30,408.60 511.50,398.80 515.10,398.80" fill="#141414"/>
<line x1="510.80" y1="408.60" x2="571.80" y2="408.60" stroke="#141414" stroke-width="1.4" stroke-linecap="butt"/>
<text transform="translate(511.00,360.00) rotate(-90) scale(0.76,1)" font-size="13.2" font-weight="bold" font-style="normal" text-anchor="start" fill="#141414" stroke="#141414" stroke-width="0.55">600</text>
<text transform="translate(506.40,343.00) rotate(-90) scale(0.85,1)" font-size="9.5" font-weight="bold" font-style="normal" text-anchor="start" fill="#141414" stroke="#141414" stroke-width="0.55">+20</text>
<line x1="529.10" y1="364.60" x2="529.10" y2="408.60" stroke="#141414" stroke-width="1.4" stroke-linecap="butt"/>
<polygon points="529.10,364.60 530.90,374.40 527.30,374.40" fill="#141414"/>
<polygon points="529.10,408.60 527.30,398.80 530.90,398.80" fill="#141414"/>
<line x1="527.30" y1="364.60" x2="592.00" y2="364.60" stroke="#141414" stroke-width="1.4" stroke-linecap="butt"/>
<text transform="translate(527.00,392.00) rotate(-90) scale(0.76,1)" font-size="13.2" font-weight="bold" font-style="normal" text-anchor="start" fill="#141414" stroke="#141414" stroke-width="0.55">85</text>
<text transform="translate(526.00,380.00) rotate(-90) scale(0.85,1)" font-size="9" font-weight="bold" font-style="normal" text-anchor="start" fill="#141414" stroke="#141414" stroke-width="0.55">±10</text>
<line x1="545.90" y1="383.70" x2="545.90" y2="421.80" stroke="#141414" stroke-width="1.4" stroke-linecap="butt"/>
<polygon points="545.90,401.00 544.10,393.00 547.70,393.00" fill="#141414"/>
<polygon points="545.90,408.60 547.70,416.60 544.10,416.60" fill="#141414"/>
<line x1="543.80" y1="401.00" x2="571.80" y2="401.00" stroke="#141414" stroke-width="1.4" stroke-linecap="butt"/>
<text transform="translate(544.00,387.40) rotate(-90) scale(0.76,1)" font-size="13.2" font-weight="bold" font-style="normal" text-anchor="middle" fill="#141414" stroke="#141414" stroke-width="0.55">8</text>
<circle cx="582.50" cy="422.30" r="6.90" fill="none" stroke="#141414" stroke-width="1.65"/>
<text transform="translate(582.60,426.70) rotate(0) scale(0.85,1)" font-size="12.3" font-weight="bold" font-style="normal" text-anchor="middle" fill="#141414" stroke="#141414" stroke-width="0.4">3</text>
<circle cx="616.00" cy="422.80" r="6.90" fill="none" stroke="#141414" stroke-width="1.65"/>
<text transform="translate(616.00,427.20) rotate(0) scale(0.85,1)" font-size="12.3" font-weight="bold" font-style="normal" text-anchor="middle" fill="#141414" stroke="#141414" stroke-width="0.4">4</text>
<line x1="520.20" y1="240.00" x2="520.20" y2="362.70" stroke="#141414" stroke-width="1.4" stroke-linecap="butt"/>
<line x1="520.20" y1="411.00" x2="520.20" y2="459.40" stroke="#141414" stroke-width="1.4" stroke-linecap="butt"/>
<line x1="684.50" y1="240.00" x2="684.50" y2="459.40" stroke="#141414" stroke-width="1.4" stroke-linecap="butt"/>
<line x1="520.20" y1="456.80" x2="684.50" y2="456.80" stroke="#141414" stroke-width="1.4" stroke-linecap="butt"/>
<polygon points="520.20,456.80 530.00,455.00 530.00,458.60" fill="#141414"/>
<polygon points="684.50,456.80 674.70,458.60 674.70,455.00" fill="#141414"/>
<text transform="translate(589.50,454.80) rotate(0) scale(0.76,1)" font-size="13.2" font-weight="bold" font-style="normal" text-anchor="start" fill="#141414" stroke="#141414" stroke-width="0.55">Ø164</text>
<text transform="translate(617.50,454.80) rotate(0) scale(0.85,1)" font-size="9" font-weight="bold" font-style="normal" text-anchor="start" fill="#141414" stroke="#141414" stroke-width="0.55">±0.35</text>
</g>
</svg>
</body></html>
